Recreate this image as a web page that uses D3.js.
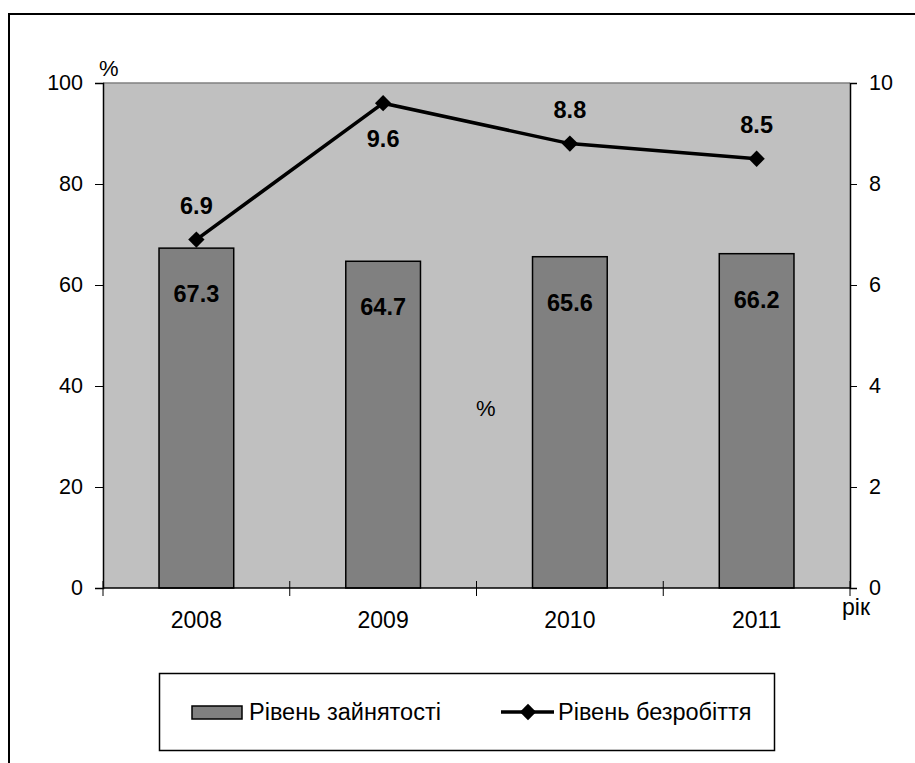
<!DOCTYPE html>
<html>
<head>
<meta charset="utf-8">
<script src="https://cdn.jsdelivr.net/npm/d3@7"></script>
<style>
  html, body { margin: 0; padding: 0; background: #fff; }
  svg { display: block; }
  text { font-family: "Liberation Sans", Arial, sans-serif; fill: #000; }
</style>
</head>
<body>
<svg id="chart" width="915" height="763"></svg>
<script>
// Employment and unemployment rates by year
const years = ["2008", "2009", "2010", "2011"];
const employment = [67.3, 64.7, 65.6, 66.2];     // Рівень зайнятості, %
const unemployment = [6.9, 9.6, 8.8, 8.5];       // Рівень безробіття, %
const unemploymentLabelSide = ["above", "below", "above", "above"];
const leftTicks = [0, 20, 40, 60, 80, 100];
const rightTicks = [0, 2, 4, 6, 8, 10];
const seriesNames = ["Рівень зайнятості", "Рівень безробіття"];

const svg = d3.select("#chart");
const plot = { left: 103, top: 83, right: 850, bottom: 588 };

// outer frame
svg.append("rect")
  .attr("x", 9).attr("y", 14)
  .attr("width", 960).attr("height", 800)
  .attr("fill", "#fff").attr("stroke", "#000").attr("stroke-width", 2);

const x = d3.scaleBand().domain(years).range([plot.left, plot.right]).paddingInner(0).paddingOuter(0);
const yL = d3.scaleLinear().domain([0, 100]).range([plot.bottom, plot.top]);
const yR = d3.scaleLinear().domain([0, 10]).range([plot.bottom, plot.top]);

// plot area
svg.append("rect")
  .attr("x", plot.left).attr("y", plot.top)
  .attr("width", plot.right - plot.left).attr("height", plot.bottom - plot.top)
  .attr("fill", "#c0c0c0");
svg.append("line")
  .attr("x1", plot.left).attr("x2", plot.right)
  .attr("y1", plot.top).attr("y2", plot.top)
  .attr("stroke", "#808080").attr("stroke-width", 1.5);

// bars
const barW = x.bandwidth() * 0.4;
svg.append("g").selectAll("rect").data(years).join("rect")
  .attr("x", (d) => x(d) + (x.bandwidth() - barW) / 2)
  .attr("y", (d, i) => yL(employment[i]))
  .attr("width", barW)
  .attr("height", (d, i) => yL(0) - yL(employment[i]))
  .attr("fill", "#808080").attr("stroke", "#000").attr("stroke-width", 1.5);

// bar value labels
svg.append("g").selectAll("text").data(years).join("text")
  .attr("x", (d) => x(d) + x.bandwidth() / 2)
  .attr("y", (d, i) => yL(employment[i]) + 46)
  .attr("text-anchor", "middle").attr("dominant-baseline", "central")
  .attr("font-size", 23.5).attr("font-weight", "bold")
  .text((d, i) => employment[i].toFixed(1));

// axes
const axisFont = (g) => g.selectAll("text").attr("font-size", 21.5).attr("fill", "#000");
const leftAxis = svg.append("g").attr("transform", `translate(${plot.left},0)`)
  .call(d3.axisLeft(yL).tickValues(leftTicks).tickSize(8).tickPadding(12).tickFormat(d3.format("d")));
leftAxis.call(axisFont);
leftAxis.select(".domain").attr("stroke-width", 1.5);

const rightAxis = svg.append("g").attr("transform", `translate(${plot.right},0)`)
  .call(d3.axisRight(yR).tickValues(rightTicks).tickSize(7).tickPadding(12).tickFormat(d3.format("d")));
rightAxis.call(axisFont);
rightAxis.select(".domain").attr("stroke-width", 1.5);

// category axis: cross ticks at band boundaries, labels at centers
const bottomAxis = svg.append("g").attr("transform", `translate(0,${plot.bottom})`);
bottomAxis.append("line")
  .attr("x1", plot.left).attr("x2", plot.right)
  .attr("stroke", "#000").attr("stroke-width", 1.5);
const bounds = years.map((d) => x(d)).concat([plot.right]);
bottomAxis.selectAll("line.tick").data(bounds).join("line").attr("class", "tick")
  .attr("x1", (d) => d).attr("x2", (d) => d)
  .attr("y1", -7).attr("y2", 8)
  .attr("stroke", "#000").attr("stroke-width", 1);
bottomAxis.selectAll("text").data(years).join("text")
  .attr("x", (d) => x(d) + x.bandwidth() / 2)
  .attr("y", 32)
  .attr("text-anchor", "middle").attr("dominant-baseline", "central")
  .attr("font-size", 23)
  .text((d) => d);

// unemployment line
const cx = (i) => x(years[i]) + x.bandwidth() / 2;
const line = d3.line().x((d, i) => cx(i)).y((d) => yR(d));
svg.append("path").datum(unemployment)
  .attr("d", line).attr("fill", "none")
  .attr("stroke", "#000").attr("stroke-width", 3.5);
const diamond = d3.symbol().type(d3.symbolDiamond2).size(170);
svg.append("g").selectAll("path").data(unemployment).join("path")
  .attr("transform", (d, i) => `translate(${cx(i)},${yR(d)})`)
  .attr("d", diamond).attr("fill", "#000");
svg.append("g").selectAll("text").data(unemployment).join("text")
  .attr("x", (d, i) => cx(i))
  .attr("y", (d, i) => yR(d) + (unemploymentLabelSide[i] === "above" ? -34 : 36))
  .attr("text-anchor", "middle").attr("dominant-baseline", "central")
  .attr("font-size", 23.5).attr("font-weight", "bold")
  .text((d) => d.toFixed(1));

// unit labels
svg.append("text").attr("x", 99).attr("y", 68)
  .attr("dominant-baseline", "central").attr("font-size", 22).text("%");
svg.append("text").attr("x", 476).attr("y", 408)
  .attr("dominant-baseline", "central").attr("font-size", 22).text("%");
svg.append("text").attr("x", 842).attr("y", 607)
  .attr("dominant-baseline", "central").attr("font-size", 23).text("рік");

// legend
const legend = svg.append("g");
legend.append("rect")
  .attr("x", 159.5).attr("y", 673.5).attr("width", 615).attr("height", 77)
  .attr("fill", "#fff").attr("stroke", "#000").attr("stroke-width", 1.5);
legend.append("rect")
  .attr("x", 192).attr("y", 706).attr("width", 50).attr("height", 13)
  .attr("fill", "#808080").attr("stroke", "#000").attr("stroke-width", 1.5);
legend.append("text").attr("x", 249).attr("y", 712)
  .attr("dominant-baseline", "central").attr("font-size", 23.5).text(seriesNames[0]);
legend.append("line")
  .attr("x1", 501).attr("x2", 554).attr("y1", 712).attr("y2", 712)
  .attr("stroke", "#000").attr("stroke-width", 3.5);
legend.append("path").attr("transform", "translate(528,712)")
  .attr("d", diamond).attr("fill", "#000");
legend.append("text").attr("x", 558).attr("y", 712)
  .attr("dominant-baseline", "central").attr("font-size", 23.5).text(seriesNames[1]);
</script>
</body>
</html>
